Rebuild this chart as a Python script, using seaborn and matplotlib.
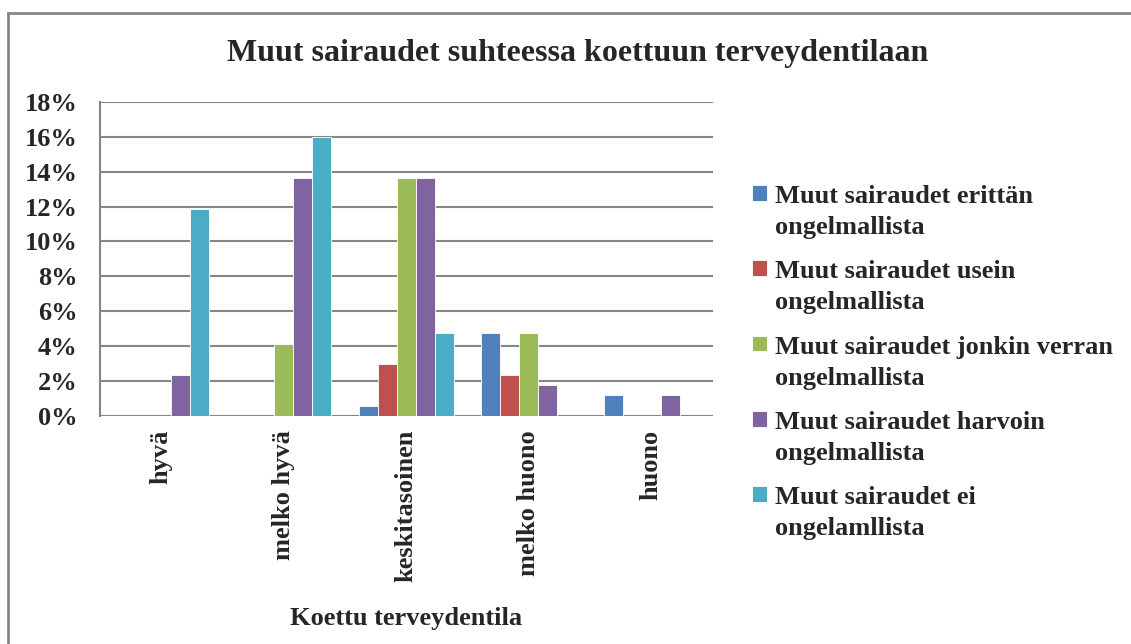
import matplotlib
matplotlib.use("Agg")
import matplotlib.pyplot as plt
from matplotlib.patches import Rectangle
from matplotlib.ticker import FuncFormatter
import pandas as pd
import seaborn as sns

# data (percent of respondents)
categories = ["hyvä", "melko hyvä", "keskitasoinen", "melko huono", "huono"]
series_names = [
    "Muut sairaudet erittän\nongelmallista",
    "Muut sairaudet usein\nongelmallista",
    "Muut sairaudet jonkin verran\nongelmallista",
    "Muut sairaudet harvoin\nongelmallista",
    "Muut sairaudet ei\nongelamllista",
]
erittain = [0, 0, 0.59, 4.73, 1.18]
usein = [0, 0, 2.96, 2.37, 0]
jonkin_verran = [0, 4.14, 13.61, 4.73, 0]
harvoin = [2.37, 13.61, 13.61, 1.78, 1.18]
ei = [11.83, 15.98, 4.73, 0, 0]
colors = ["#4F81BD", "#C0504D", "#9BBB59", "#8064A2", "#4BACC6"]

rows = []
for name, vals in zip(series_names, [erittain, usein, jonkin_verran, harvoin, ei]):
    for cat, v in zip(categories, vals):
        rows.append({"Koettu terveydentila": cat, "osuus": v, "sarja": name})
df = pd.DataFrame(rows)

sns.set_style("white")
plt.rcParams["font.family"] = ["Liberation Serif", "DejaVu Serif"]
plt.rcParams["font.weight"] = "bold"

fig, ax = plt.subplots(figsize=(11.31, 6.44), dpi=100)
fig.subplots_adjust(left=0.0884, right=0.630, bottom=0.354, top=0.842)

sns.barplot(data=df, x="Koettu terveydentila", y="osuus", hue="sarja",
            order=categories, hue_order=series_names, palette=colors,
            saturation=1, width=0.775, edgecolor="white", linewidth=0.6, ax=ax)

ax.set_ylim(0, 18)
ax.set_yticks(range(0, 19, 2))
ax.yaxis.set_major_formatter(FuncFormatter(lambda v, p: f"{v:.0f}%"))
ax.grid(axis="y", color="#868686", linewidth=1.5)
ax.set_axisbelow(True)
for side in ["top", "right", "bottom"]:
    ax.spines[side].set_visible(False)
ax.spines["left"].set_color("#868686")
ax.spines["left"].set_linewidth(1.5)

ax.tick_params(axis="y", length=0, pad=16, labelsize=19)
ax.tick_params(axis="x", length=0, pad=10, labelsize=19, rotation=90)
for lab in ax.get_xticklabels() + ax.get_yticklabels():
    lab.set_fontweight("bold")
ax.set_ylabel("")
ax.set_xlabel("Koettu terveydentila", fontsize=19, fontweight="bold", labelpad=18)

fig.text(0.511, 0.917, "Muut sairaudet suhteessa koettuun terveydentilaan",
         ha="center", va="center", fontsize=23, fontweight="bold")

leg = ax.legend(loc="center left", bbox_to_anchor=(0.644, 0.437),
                bbox_transform=fig.transFigure, frameon=False,
                prop={"size": 19, "weight": "bold"},
                handlelength=0.55, handleheight=0.55, handletextpad=0.3,
                labelspacing=0.8)
for t in leg.get_texts():
    t.set_linespacing(1.45)
# put the colour square next to the first line of each label, as in Excel
for column in leg._legend_handle_box.get_children():
    for item in column.get_children():
        item.align = "top"

# outer chart frame (only the left and top edges are visible)
fig.patches.append(Rectangle((8 / 1131, -0.2), 1.5, 1.2 - 13 / 644,
                             transform=fig.transFigure, fill=False,
                             edgecolor="#868686", linewidth=2))

fig.savefig("out.png", dpi=100)
